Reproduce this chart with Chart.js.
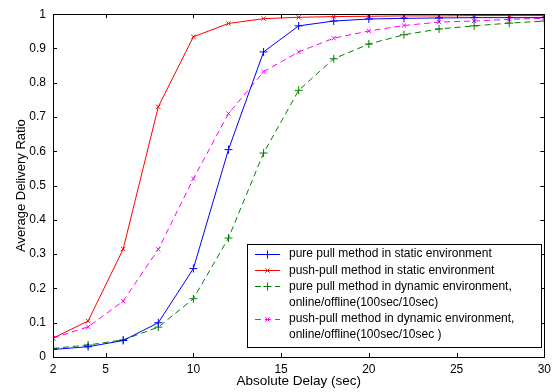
<!DOCTYPE html>
<html>
<head>
<meta charset="utf-8">
<script src="https://cdn.jsdelivr.net/npm/chart.js@4/dist/chart.umd.min.js"></script>
<style>
  html, body { margin: 0; padding: 0; background: #fff; }
  #wrap { width: 556px; height: 392px; }
</style>
</head>
<body>
<div id="wrap"><canvas id="grafico"></canvas></div>
<script>
// valores
const delays = [2, 4, 6, 8, 10, 12, 14, 16, 18, 20, 22, 24, 26, 28, 30];
const pullStatic = [0.022, 0.030, 0.048, 0.100, 0.258, 0.605, 0.890, 0.966, 0.980, 0.986, 0.988, 0.989, 0.990, 0.990, 0.990];
const pushPullStatic = [0.055, 0.105, 0.315, 0.730, 0.934, 0.973, 0.987, 0.991, 0.993, 0.994, 0.995, 0.995, 0.996, 0.996, 0.996];
const pullDynamic = [0.025, 0.035, 0.050, 0.087, 0.170, 0.347, 0.595, 0.778, 0.870, 0.913, 0.940, 0.957, 0.966, 0.974, 0.980];
const pushPullDynamic = [0.055, 0.088, 0.163, 0.314, 0.520, 0.710, 0.832, 0.890, 0.930, 0.951, 0.967, 0.977, 0.980, 0.985, 0.988];
const xTicks = [2, 5, 10, 15, 20, 25, 30];
const seriesLabels = [
  'pure pull method in static environment',
  'push-pull method in static environment',
  'pure pull method in dynamic environment,\nonline/offline(100sec/10sec)',
  'push-pull method in dynamic environment,\nonline/offline(100sec/10sec )'
];

const FONT = 'Liberation Sans, Arial, sans-serif';

function pts(vals) {
  return vals.map((v, i) => ({ x: delays[i], y: v }));
}

function serie(label, vals, color, style, radius, dash) {
  return {
    label: label,
    data: pts(vals),
    borderColor: color,
    backgroundColor: color,
    borderWidth: 1,
    borderDash: dash,
    pointStyle: style,
    pointRadius: radius,
    pointBorderWidth: 1,
    pointBorderColor: color,
    tension: 0
  };
}

// caixa, ticks para dentro e legenda estilo matlab
const estiloMatlab = {
  id: 'estiloMatlab',
  afterDatasetsDraw(chart) {
    const ctx = chart.ctx;
    const a = chart.chartArea;
    const xs = chart.scales.x, ys = chart.scales.y;
    ctx.save();
    ctx.strokeStyle = '#000';
    ctx.lineWidth = 1;
    ctx.setLineDash([]);
    ctx.beginPath();
    xTicks.forEach(t => {
      const px = Math.round(xs.getPixelForValue(t)) + 0.5;
      ctx.moveTo(px, a.bottom); ctx.lineTo(px, a.bottom - 4);
      ctx.moveTo(px, a.top); ctx.lineTo(px, a.top + 4);
    });
    ys.ticks.forEach(t => {
      const py = Math.round(ys.getPixelForValue(t.value)) + 0.5;
      ctx.moveTo(a.left, py); ctx.lineTo(a.left + 4, py);
      ctx.moveTo(a.right, py); ctx.lineTo(a.right - 4, py);
    });
    ctx.stroke();
    ctx.strokeRect(Math.round(a.left) + 0.5, Math.round(a.top) + 0.5, Math.round(a.right - a.left), Math.round(a.bottom - a.top));

    // legenda
    const bx = 247.5, by = 244.5, bw = 294, bh = 103;
    ctx.fillStyle = '#fff';
    ctx.fillRect(bx, by, bw, bh);
    ctx.strokeRect(bx, by, bw, bh);
    ctx.font = '12px ' + FONT;
    ctx.textBaseline = 'middle';
    let y = 254;
    const lh = 16.2;
    chart.data.datasets.forEach(ds => {
      const lines = ds.label.split('\n');
      ctx.strokeStyle = ds.borderColor;
      ctx.lineWidth = 1;
      ctx.setLineDash(ds.borderDash || []);
      ctx.beginPath();
      ctx.moveTo(255, Math.round(y) + 0.5);
      ctx.lineTo(280, Math.round(y) + 0.5);
      ctx.stroke();
      ctx.setLineDash([]);
      Chart.helpers.drawPoint(ctx, {
        pointStyle: ds.pointStyle, radius: ds.pointRadius, borderWidth: 1, rotation: 0
      }, 267.5, Math.round(y) + 0.5);
      ctx.fillStyle = '#000';
      lines.forEach((l, k) => ctx.fillText(l, 289, y + k * lh));
      y += lh * lines.length;
    });
    ctx.restore();
  }
};

new Chart(document.getElementById('grafico'), {
  type: 'line',
  data: {
    datasets: [
      serie(seriesLabels[0], pullStatic, '#0000ff', 'cross', 4, []),
      serie(seriesLabels[1], pushPullStatic, '#ff0000', 'crossRot', 3, []),
      serie(seriesLabels[2], pullDynamic, '#008000', 'cross', 4, [6, 4]),
      serie(seriesLabels[3], pushPullDynamic, '#ff00ff', 'crossRot', 3, [6, 4])
    ]
  },
  options: {
    responsive: true,
    maintainAspectRatio: false,
    animation: false,
    layout: { padding: { top: 9, right: 7, left: 0, bottom: 0 } },
    plugins: {
      legend: { display: false },
      tooltip: { enabled: false }
    },
    scales: {
      x: {
        type: 'linear',
        min: 2,
        max: 30,
        afterBuildTicks: s => { s.ticks = xTicks.map(v => ({ value: v })); },
        afterFit: s => { s.height = 35; },
        grid: { display: false, drawTicks: false },
        border: { display: false },
        ticks: { color: '#000', font: { family: FONT, size: 12 }, padding: 5, maxRotation: 0 },
        title: { display: true, text: 'Absolute Delay (sec)', color: '#000', font: { family: FONT, size: 13.5 }, padding: { top: 0, bottom: 3 } }
      },
      y: {
        min: 0,
        max: 1,
        afterFit: s => { s.width = 53; },
        grid: { display: false, drawTicks: false },
        border: { display: false },
        ticks: {
          stepSize: 0.1, color: '#000', font: { family: FONT, size: 12 }, padding: 7,
          callback: v => String(Number(v.toFixed(1)))
        },
        title: { display: true, text: 'Average Delivery Ratio', color: '#000', font: { family: FONT, size: 13 }, padding: { top: 14, bottom: 0 } }
      }
    }
  },
  plugins: [estiloMatlab]
});
</script>
</body>
</html>
